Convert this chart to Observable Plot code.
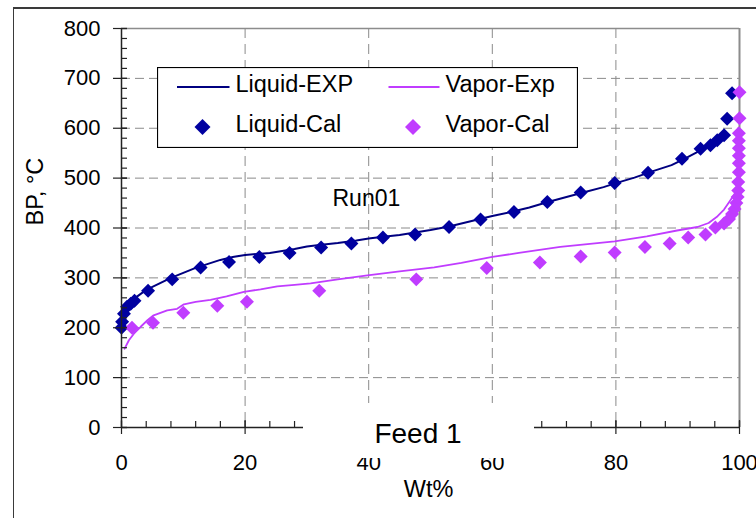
<!DOCTYPE html>
<html>
<head>
<meta charset="utf-8">
<script src="https://cdn.jsdelivr.net/npm/d3@7"></script>
<script src="https://cdn.jsdelivr.net/npm/@observablehq/plot@0.6"></script>
<style>
  html, body { margin: 0; padding: 0; background: #fff; overflow: hidden; }
  #wrap { position: relative; width: 756px; height: 518px; overflow: hidden; font-family: "Liberation Sans", Arial, sans-serif; }
  #frame { position: absolute; left: 13px; top: 7px; width: 900px; height: 700px; border-left: 1.5px solid #3a3a3a; border-top: 2px solid #3a3a3a; pointer-events: none; }
  #chart { position: absolute; left: 0; top: 0; }
  .overlay { position: absolute; }
</style>
</head>
<body>
<div id="wrap">
  <div id="chart"></div>
  <div id="frame"></div>
</div>
<script>
// ---- data ----
const xTicks = [0, 20, 40, 60, 80, 100];
const yTicks = [0, 100, 200, 300, 400, 500, 600, 700, 800];
const xGrid = [20, 40, 60, 80];
const yGrid = [100, 200, 300, 400, 500, 600, 700];
const xMinor = d3.range(0, 101, 4);
const yMinor = d3.range(0, 801, 20);

const seriesNames = ["Liquid-EXP", "Vapor-Exp", "Liquid-Cal", "Vapor-Cal"];
const seriesColors = ["#000080", "#c03cff", "#0000a0", "#c03cff"];

const liquidExp = [
  [0,200],[0.3,222],[0.6,234],[1,245],[2,258],[3,267],[4,276],[6,288],[8,300],[10,310],
  [12,320],[14,328],[16,336],[18,342],[20,346],[22,348],[24,350],[26,354],[28,358],[30,363],
  [32,366],[35,370],[38,375],[40,379],[42,382],[45,386],[48,392],[50,396],[53,403],[56,412],
  [58,418],[60,424],[63,432],[66,441],[69,452],[72,462],[75,472],[78,482],[80,490],[83,501],
  [86,514],[89,526],[91,538],[93,551],[95,565],[96.5,578],[97.5,590]
];
const vaporExp = [
  [0.5,158],[1.2,175],[2,188],[3.1,202],[4.2,215],[5.2,225],[7.4,235],[9,238],[10.1,247],[12,252],
  [14.4,256],[17,263],[19.8,272],[22.5,277],[25.2,283],[28,286],[30.6,289],[35,297],[39.8,305],[45,313],
  [50.6,321],[55,330],[60,342],[64.3,350],[71,362],[75,367],[79.8,373],[85,383],[89.9,395],[93.2,402],
  [95,410],[96.3,422],[97.5,437],[98.5,455],[99.3,470],[99.7,490]
];
const liquidCal = [
  [0,200],[0.1,212],[0.4,228],[0.9,242],[1.5,248],[2.1,254],[4.3,274],[8.2,297],[12.8,321],[17.4,332],
  [22.3,342],[27.2,350],[32.3,361],[37.2,369],[42.3,381],[47.5,387],[53,402],[58.1,417],[63.5,432],[68.9,452],
  [74.3,471],[79.8,490],[85.2,511],[90.7,539],[93.7,559],[95.3,566],[96.4,576],[97.5,586],[98,619],[98.8,670]
];
const vaporCal = [
  [1.7,200],[5.1,210],[10,230],[15.5,244],[20.3,252],[32,274],[47.7,297],[59.1,320],[67.7,331],[74.3,343],
  [79.8,351],[84.7,362],[88.7,369],[91.7,381],[94.5,387],[96.1,401],[97.5,409],[98.3,418],[98.8,428],[99.2,438],
  [99.5,450],[99.7,462],[99.8,475],[99.8,492],[99.9,512],[99.9,530],[99.9,545],[99.9,560],[99.9,575],[99.9,590],
  [100,620],[100,672]
];

const xLabel = "Wt%";
const yLabel = "BP, °C";
const runLabel = "Run01";
const titleText = "Feed 1";

// ---- chart ----
const FONT = "'Liberation Sans', Arial, sans-serif";
const px = d => d[0], py = d => d[1];

const chart = Plot.plot({
  width: 756,
  height: 518,
  marginLeft: 121,
  marginRight: 17,
  marginTop: 28,
  marginBottom: 91,
  style: { fontFamily: FONT, background: "transparent", color: "#000", overflow: "visible" },
  x: { domain: [0, 100] },
  y: { domain: [0, 800] },
  marks: [
    Plot.ruleY(yGrid, { stroke: "#8a8a8a", strokeWidth: 1, strokeDasharray: "9,5" }),
    Plot.ruleX(xGrid, { stroke: "#8a8a8a", strokeWidth: 1, strokeDasharray: "10,6" }),
    Plot.ruleY([800], { stroke: "#8c8c8c", strokeWidth: 1.5 }),
    Plot.ruleX([100], { stroke: "#8c8c8c", strokeWidth: 2 }),
    Plot.text([runLabel], { frameAnchor: "top-left", dx: 211, dy: 161, textAnchor: "start", fontSize: 23, fill: "#000" }),
    Plot.line(liquidExp, { x: px, y: py, stroke: seriesColors[0], strokeWidth: 2 }),
    Plot.line(vaporExp, { x: px, y: py, stroke: seriesColors[1], strokeWidth: 1.8 }),
    Plot.dot(liquidCal, { x: px, y: py, symbol: "diamond2", r: 6.3, fill: seriesColors[2], stroke: "none" }),
    Plot.dot(vaporCal, { x: px, y: py, symbol: "diamond2", r: 6.3, fill: seriesColors[3], stroke: "none" }),
    Plot.ruleX([0], { stroke: "#222", strokeWidth: 1.5 }),
    Plot.ruleY([0], { stroke: "#222", strokeWidth: 1.5 }),
    // y ticks: minor inside, major crossing
    Plot.tickY(yMinor, { stroke: "#222", strokeWidth: 1.2, insetRight: 612 }),
    Plot.tickY(yTicks, { stroke: "#222", strokeWidth: 1.2, insetLeft: -8, insetRight: 612 }),
    // x ticks: minor inside, major crossing
    Plot.tickX(xMinor, { stroke: "#222", strokeWidth: 1.2, insetTop: 393 }),
    Plot.tickX(xTicks, { stroke: "#222", strokeWidth: 1.2, insetTop: 392, insetBottom: -7 }),
    Plot.axisY(yTicks, { tickSize: 0, tickPadding: 21, fontSize: 22, label: null }),
    Plot.axisX(xTicks, { tickSize: 0, tickPadding: 27, fontSize: 22, label: null }),
    Plot.text([yLabel], { frameAnchor: "left", rotate: -90, dx: -86.5, dy: -2.5, fontSize: 23.5, fill: "#000" }),
    Plot.text([xLabel], { frameAnchor: "bottom", dx: -2, dy: 69, fontSize: 23.5, fill: "#000" })
  ]
});
document.getElementById("chart").appendChild(chart);

const wrap = document.getElementById("wrap");
const NS = "http://www.w3.org/2000/svg";

// ---- title box ("Feed 1") ----
const tbox = document.createElement("div");
tbox.className = "overlay";
Object.assign(tbox.style, { left: "303px", top: "403px", width: "231px", height: "55px", background: "#fff" });
const tsvg = document.createElementNS(NS, "svg");
tsvg.setAttribute("width", 231); tsvg.setAttribute("height", 55);
const tt = document.createElementNS(NS, "text");
tt.setAttribute("x", 115); tt.setAttribute("y", 39.5);
tt.setAttribute("text-anchor", "middle");
tt.setAttribute("font-size", 28);
tt.setAttribute("font-family", FONT);
tt.textContent = titleText;
tsvg.appendChild(tt);
tbox.appendChild(tsvg);
wrap.appendChild(tbox);

// ---- legend ----
const leg = document.createElement("div");
leg.className = "overlay";
Object.assign(leg.style, { left: "157px", top: "67px", width: "421px", height: "81px" });
const lsvg = document.createElementNS(NS, "svg");
lsvg.setAttribute("width", 421); lsvg.setAttribute("height", 81);
function el(tag, attrs, text) {
  const e = document.createElementNS(NS, tag);
  for (const k in attrs) e.setAttribute(k, attrs[k]);
  if (text != null) e.textContent = text;
  lsvg.appendChild(e);
  return e;
}
el("rect", { x: 0.5, y: 0.5, width: 420, height: 80, fill: "#fff", stroke: "#000", "stroke-width": 1.2 });
const cols = [20, 231.5];
const textX = [78.5, 288.5];
const rowLineY = 20, rowDotY = 60;
const textBase = [25, 65];
const dsym = (cx, cy, r, fill) => el("path", { d: `M${cx},${cy - r}L${cx + r},${cy}L${cx},${cy + r}L${cx - r},${cy}Z`, fill });
// row 1: lines
el("line", { x1: cols[0], x2: cols[0] + 52.5, y1: rowLineY, y2: rowLineY, stroke: seriesColors[0], "stroke-width": 2 });
el("text", { x: textX[0], y: textBase[0], "font-size": 23.5, "font-family": FONT }, seriesNames[0]);
el("line", { x1: cols[1], x2: cols[1] + 51, y1: rowLineY, y2: rowLineY, stroke: seriesColors[1], "stroke-width": 1.8 });
el("text", { x: textX[1], y: textBase[0], "font-size": 23.5, "font-family": FONT }, seriesNames[1]);
// row 2: diamonds
dsym(45.5, rowDotY, 8, seriesColors[2]);
el("text", { x: textX[0], y: textBase[1], "font-size": 23.5, "font-family": FONT }, seriesNames[2]);
dsym(256, rowDotY, 8, seriesColors[3]);
el("text", { x: textX[1], y: textBase[1], "font-size": 23.5, "font-family": FONT }, seriesNames[3]);
leg.appendChild(lsvg);
wrap.appendChild(leg);
</script>
</body>
</html>
